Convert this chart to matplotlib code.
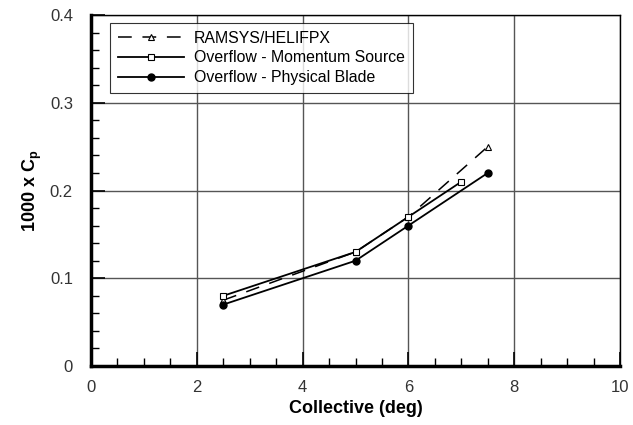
import matplotlib.pyplot as plt
from matplotlib.ticker import MultipleLocator

# data
ramsys_x = [2.5, 5.0, 6.0, 7.5]
ramsys_y = [0.075, 0.13, 0.17, 0.25]
momentum_x = [2.5, 5.0, 6.0, 7.0]
momentum_y = [0.08, 0.13, 0.17, 0.21]
blade_x = [2.5, 5.0, 6.0, 7.5]
blade_y = [0.07, 0.12, 0.16, 0.22]

x_ticks = [0, 2, 4, 6, 8, 10]
x_tick_labels = ['0', '2', '4', '6', '8', '10']
y_ticks = [0, 0.1, 0.2, 0.3, 0.4]
y_tick_labels = ['0', '0.1', '0.2', '0.3', '0.4']

plt.rcParams['font.family'] = ['Liberation Sans', 'DejaVu Sans']

fig = plt.figure(figsize=(6.33, 4.25), dpi=100)
ax = fig.add_axes([0.1438, 0.1388, 0.8357, 0.8259])

ax.plot(ramsys_x, ramsys_y, color='black', lw=1.1, dashes=(9, 7),
        marker='^', ms=5, mfc='white', mec='black', mew=0.8,
        label='RAMSYS/HELIFPX')
ax.plot(momentum_x, momentum_y, color='black', lw=1.3,
        marker='s', ms=5, mfc='white', mec='black', mew=0.8,
        label='Overflow - Momentum Source')
ax.plot(blade_x, blade_y, color='black', lw=1.3,
        marker='o', ms=5, mfc='black', mec='black',
        label='Overflow - Physical Blade')

ax.set_xlim(0, 10)
ax.set_ylim(0, 0.4)
ax.set_xticks(x_ticks)
ax.set_xticklabels(x_tick_labels)
ax.set_yticks(y_ticks)
ax.set_yticklabels(y_tick_labels)
ax.xaxis.set_minor_locator(MultipleLocator(0.5))
ax.yaxis.set_minor_locator(MultipleLocator(0.02))

ax.grid(True, which='major', color='#555555', lw=1.0)
ax.set_axisbelow(True)

ax.tick_params(which='both', direction='in', colors='black',
               labelcolor='#333333', labelsize=12)
ax.tick_params(axis='y', pad=13)
ax.tick_params(axis='x', pad=10)
ax.tick_params(which='major', length=10, width=1.2)
ax.tick_params(which='minor', length=6, width=1.0)

ax.spines['left'].set_linewidth(2.5)
ax.spines['bottom'].set_linewidth(2.5)
ax.spines['top'].set_linewidth(1.0)
ax.spines['right'].set_linewidth(1.0)

ax.set_xlabel('Collective (deg)', fontsize=13, fontweight='bold', labelpad=4)
ax.set_ylabel('1000 x C$_\\mathregular{p}$', fontsize=13, fontweight='bold', labelpad=4)

leg = ax.legend(loc='upper left', bbox_to_anchor=(0.036, 0.978), fontsize=11.4,
                frameon=True, fancybox=False, edgecolor='black',
                handlelength=4.2, borderpad=0.5, labelspacing=0.3,
                handletextpad=0.6, borderaxespad=0)
leg.get_frame().set_linewidth(0.8)

fig.savefig('out.png', dpi=100)
